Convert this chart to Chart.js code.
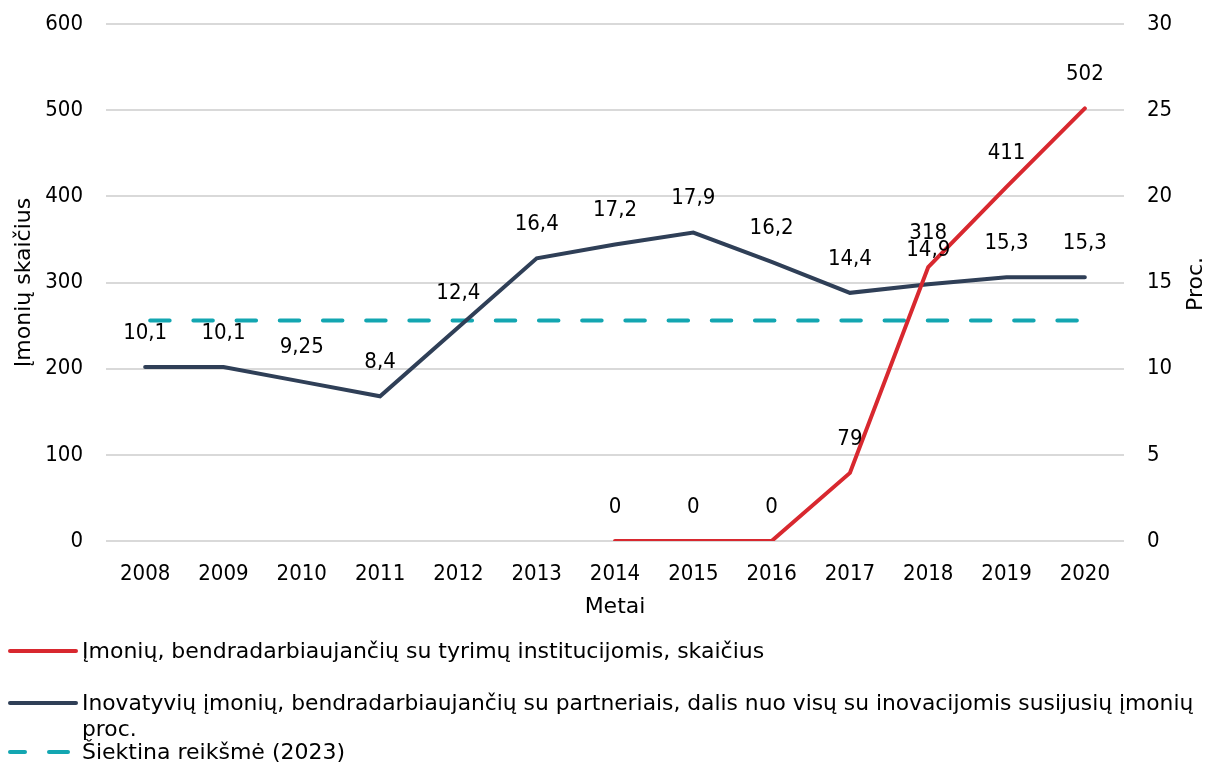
<!DOCTYPE html>
<html><head><meta charset="utf-8">
<script src="https://cdn.jsdelivr.net/npm/chart.js@4/dist/chart.umd.min.js"></script>
<style>
html,body{margin:0;padding:0;background:#fff;}
#wrap{position:relative;width:1208px;height:764px;overflow:hidden;font-family:"DejaVu Sans",sans-serif;color:#000;}
#c{position:absolute;left:0;top:0;}
.rt{position:absolute;left:1195px;top:284px;font-size:22px;line-height:26px;white-space:nowrap;transform:translate(-50%,-50%) rotate(-90deg);}
.lg{position:absolute;left:82px;font-size:22px;line-height:26px;white-space:nowrap;}
.ln{position:absolute;left:8px;width:70px;height:4px;border-radius:2px;}
.ds{position:absolute;height:4px;border-radius:2px;}
</style>
</head><body>
<div id="wrap">
<canvas id="c" width="1208" height="764"></canvas>
<div class="rt">Proc.</div>
<div class="ln" style="top:649px;background:#d8282f"></div>
<div class="lg" style="top:638px">Įmonių, bendradarbiaujančių su tyrimų institucijomis, skaičius</div>
<div class="ln" style="top:701px;background:#2f3f57"></div>
<div class="lg" style="top:690px;font-size:21.8px">Inovatyvių įmonių, bendradarbiaujančių su partneriais, dalis nuo visų su inovacijomis susijusių įmonių<br>proc.</div>
<div class="ds" style="top:750px;left:8px;width:19px;background:#13a6b1"></div>
<div class="ds" style="top:750px;left:47px;width:23px;background:#13a6b1"></div>
<div class="lg" style="top:739px">Šiektina reikšmė (2023)</div>
</div>
<script>
const years = ['2008','2009','2010','2011','2012','2013','2014','2015','2016','2017','2018','2019','2020'];
const companiesCount = [null,null,null,null,null,null,0,0,0,79,318,411,502];
const shareCooperating = [10.1,10.1,9.25,8.4,12.4,16.4,17.2,17.9,16.2,14.4,14.9,15.3,15.3];
const targetValue = [12.8,12.8,12.8,12.8,12.8,12.8,12.8,12.8,12.8,12.8,12.8,12.8,12.8];
const leftTicks = [0,100,200,300,400,500,600];
const rightTicks = [0,5,10,15,20,25,30];

const NUMFONT = "'DejaVu Sans Condensed','DejaVu Sans',sans-serif";
const TXTFONT = "'DejaVu Sans',sans-serif";
const FS = 22;

const valueLabels = {
  id: 'valueLabels',
  afterDatasetsDraw(chart) {
    const ctx = chart.ctx;
    ctx.save();
    ctx.font = FS + 'px ' + NUMFONT;
    ctx.fillStyle = '#000';
    ctx.textAlign = 'center';
    ctx.textBaseline = 'middle';
    chart.data.datasets.forEach((ds, i) => {
      if (!ds.showLabels) return;
      const meta = chart.getDatasetMeta(i);
      meta.data.forEach((pt, j) => {
        const v = ds.data[j];
        if (v == null) return;
        ctx.fillText(String(v).replace('.', ','), pt.x, pt.y - 34);
      });
    });
    ctx.restore();
  }
};

new Chart(document.getElementById('c'), {
  type: 'line',
  data: {
    labels: years,
    datasets: [
      {
        label: 'Įmonių, bendradarbiaujančių su tyrimų institucijomis, skaičius',
        data: companiesCount, yAxisID: 'y', borderColor: '#d8282f', backgroundColor: '#d8282f',
        borderWidth: 4, pointRadius: 0, tension: 0, borderCapStyle: 'round', order: 0, showLabels: true, spanGaps: false
      },
      {
        label: 'Inovatyvių įmonių, bendradarbiaujančių su partneriais, dalis nuo visų su inovacijomis susijusių įmonių proc.',
        data: shareCooperating, yAxisID: 'y1', borderColor: '#2f3f57', backgroundColor: '#2f3f57',
        borderWidth: 4, pointRadius: 0, tension: 0, borderCapStyle: 'round', order: 1, showLabels: true
      },
      {
        label: 'Šiektina reikšmė (2023)',
        data: targetValue, yAxisID: 'y1', borderColor: '#13a6b1', backgroundColor: '#13a6b1',
        borderWidth: 4, pointRadius: 0, tension: 0, borderCapStyle: 'round', borderDash: [19.5, 23.7], borderDashOffset: -5, order: 2
      }
    ]
  },
  options: {
    responsive: false,
    animation: false,
    layout: { padding: { top: 24, bottom: 144, left: 0, right: 0 } },
    plugins: { legend: { display: false }, tooltip: { enabled: false } },
    scales: {
      x: {
        offset: true,
        grid: { display: false, drawTicks: false },
        border: { display: false },
        ticks: { color: '#000', font: { family: NUMFONT, size: FS }, padding: 20, maxRotation: 0, autoSkip: false },
        title: { display: true, text: 'Metai', color: '#000', font: { family: TXTFONT, size: FS }, padding: { top: 0, bottom: 0 } },
        afterFit(s) { s.height = 79; }
      },
      y: {
        position: 'left', min: 0, max: 600,
        afterBuildTicks(s) { s.ticks = leftTicks.map(v => ({ value: v })); },
        grid: { color: '#d9d9d9', lineWidth: 2, drawTicks: false },
        border: { display: false },
        ticks: { color: '#000', font: { family: NUMFONT, size: FS }, padding: 23 },
        title: { display: true, text: 'Įmonių skaičius', color: '#000', font: { family: TXTFONT, size: FS }, padding: { top: 11, bottom: 0 } },
        afterFit(s) { s.width = 106; s.paddingTop = 0; s.paddingBottom = 0; }
      },
      y1: {
        position: 'right', min: 0, max: 30,
        afterBuildTicks(s) { s.ticks = rightTicks.map(v => ({ value: v })); },
        grid: { drawOnChartArea: false, drawTicks: false },
        border: { display: false },
        ticks: { color: '#000', font: { family: NUMFONT, size: FS }, padding: 23 },
        afterFit(s) { s.width = 84; s.paddingTop = 0; s.paddingBottom = 0; }
      }
    }
  },
  plugins: [valueLabels]
});
</script>
</body></html>
